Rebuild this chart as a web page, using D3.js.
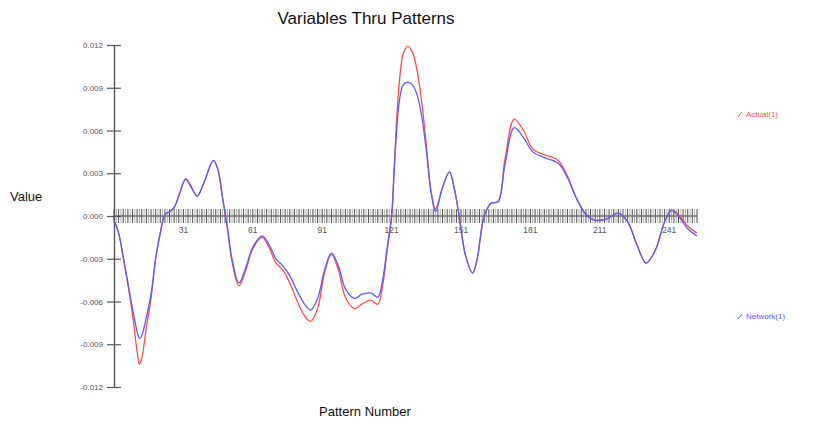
<!DOCTYPE html>
<html>
<head>
<meta charset="utf-8">
<script src="https://cdn.jsdelivr.net/npm/d3@7/dist/d3.min.js"></script>
<style>
  html, body { margin: 0; padding: 0; background: #fff; }
  svg { display: block; font-family: "Liberation Sans", Arial, sans-serif; }
</style>
</head>
<body>
<script>
// Pattern numbers at which each series is sampled
const patterns = [1, 3, 5, 7, 9, 11, 12, 13, 15, 17, 19, 21, 23, 25, 27, 29, 32, 34, 37, 40, 44, 46, 48, 50, 52, 55, 58, 61, 65, 68, 71, 74, 77, 80, 83, 86, 89, 92, 95, 98, 101, 105, 108, 112, 115, 117, 119, 121, 122, 123, 124, 125, 126, 128, 130, 132, 134, 136, 138, 140, 143, 146, 148, 150, 153, 156, 158, 161, 164, 167, 170, 174, 178, 182, 187, 193, 197, 201, 205, 209, 214, 219, 223, 227, 231, 235, 239, 242, 245, 249, 253];

const actual = [-0.0003, -0.0012, -0.0029, -0.0048, -0.0069, -0.0095, -0.0104, -0.0100, -0.0078, -0.0058, -0.0030, -0.0012, 0.0001, 0.0003, 0.0006, 0.0014, 0.0026, 0.0022, 0.0014, 0.0024, 0.0039, 0.0032, 0.0012, -0.0008, -0.0032, -0.0049, -0.0038, -0.0023, -0.0015, -0.0022, -0.0033, -0.0038, -0.0047, -0.0059, -0.0069, -0.0074, -0.0065, -0.0040, -0.0027, -0.0038, -0.0057, -0.0065, -0.0062, -0.0059, -0.0062, -0.0050, -0.0025, 0.0000, 0.0030, 0.0062, 0.0088, 0.0104, 0.0114, 0.0119, 0.0115, 0.0102, 0.0080, 0.0050, 0.0018, 0.0005, 0.0020, 0.0031, 0.0020, 0.0002, -0.0028, -0.0040, -0.0030, 0.0000, 0.0009, 0.0010, 0.0040, 0.0068, 0.0060, 0.0047, 0.0043, 0.0039, 0.0028, 0.0012, 0.0001, -0.0003, -0.0002, 0.0002, -0.0004, -0.0020, -0.0033, -0.0024, -0.0004, 0.0004, 0.0001, -0.0007, -0.0012];

const network = [-0.0003, -0.0012, -0.0029, -0.0047, -0.0065, -0.0081, -0.0086, -0.0084, -0.0071, -0.0055, -0.0030, -0.0012, 0.0001, 0.0003, 0.0006, 0.0014, 0.0026, 0.0021, 0.0014, 0.0024, 0.0039, 0.0032, 0.0012, -0.0008, -0.0030, -0.0047, -0.0036, -0.0022, -0.0014, -0.0020, -0.0030, -0.0035, -0.0042, -0.0052, -0.0061, -0.0066, -0.0058, -0.0038, -0.0026, -0.0035, -0.0051, -0.0058, -0.0055, -0.0054, -0.0057, -0.0046, -0.0023, 0.0000, 0.0028, 0.0056, 0.0076, 0.0087, 0.0092, 0.0094, 0.0092, 0.0085, 0.0070, 0.0046, 0.0017, 0.0003, 0.0020, 0.0031, 0.0020, 0.0002, -0.0028, -0.0040, -0.0030, 0.0000, 0.0009, 0.0010, 0.0036, 0.0062, 0.0055, 0.0045, 0.0041, 0.0037, 0.0027, 0.0012, 0.0001, -0.0003, -0.0002, 0.0002, -0.0004, -0.0020, -0.0033, -0.0024, -0.0004, 0.0004, 0.0000, -0.0009, -0.0014];

// Axis tick values and labels
const yTicks = [-0.012, -0.009, -0.006, -0.003, 0.000, 0.003, 0.006, 0.009, 0.012];
const xLabels = [31, 61, 91, 121, 151, 181, 211, 241];
const seriesNames = ["Actual(1)", "Network(1)"];
const seriesColors = ["#ff4a4a", "#5a5aff"];

const W = 840, H = 426;
const svg = d3.select("body").append("svg").attr("width", W).attr("height", H);

const x = d3.scaleLinear().domain([1, 253]).range([114, 697]);
const y = d3.scaleLinear().domain([-0.012, 0.012]).range([387, 45]);

// Title and axis titles
svg.append("text").attr("x", 366).attr("y", 24).attr("text-anchor", "middle")
  .attr("font-size", 17).attr("fill", "#111").text("Variables Thru Patterns");
svg.append("text").attr("x", 10).attr("y", 201)
  .attr("font-size", 13).attr("fill", "#111").text("Value");
svg.append("text").attr("x", 365).attr("y", 416).attr("text-anchor", "middle")
  .attr("font-size", 13).attr("fill", "#111").text("Pattern Number");

// Y axis
const yAxis = d3.axisLeft(y).tickValues(yTicks)
  .tickFormat(d3.format(".3f")).tickSizeInner(7).tickSizeOuter(0).tickPadding(4);
const gy = svg.append("g").attr("transform", `translate(${x(1)},0)`).call(yAxis);
gy.select(".domain").attr("stroke", "#555").attr("stroke-width", 1.4);
gy.selectAll(".tick line").attr("stroke", "#555").attr("x2", 7).attr("x1", -7).attr("stroke-width", 1.2);
gy.selectAll(".tick text").attr("font-size", 8).attr("fill", "#555")
  .attr("font-family", "Liberation Sans, Arial, sans-serif").attr("x", -11)
  .text(d => d.toFixed(3));

// Dense pattern ticks along the zero line
const xAll = d3.range(1, 254);
const gx = svg.append("g").attr("transform", `translate(0,${y(0)})`);
gx.selectAll("line.pt").data(xAll).join("line").attr("class", "pt")
  .attr("x1", d => x(d)).attr("x2", d => x(d)).attr("y1", -7).attr("y2", 7)
  .attr("stroke", (d, i) => i % 2 ? "#b0b0b0" : "#505050").attr("stroke-width", 1);
gx.append("line").attr("x1", x(1)).attr("x2", x(253)).attr("stroke", "#444").attr("stroke-width", 1.2);
gx.selectAll("text").data(xLabels).join("text")
  .attr("x", d => x(d)).attr("y", 17).attr("text-anchor", "middle")
  .attr("font-size", 8.5).attr("fill", "#555").text(d => d);

// Series lines
const line = d3.line().x((d, i) => x(patterns[i])).y(d => y(d)).curve(d3.curveCatmullRom.alpha(0.5));
[actual, network].forEach((vals, k) => {
  svg.append("path").datum(vals).attr("d", line).attr("fill", "none")
    .attr("stroke", seriesColors[k]).attr("stroke-width", 1.3);
});

// Legend entries
const legendY = [117, 319];
seriesNames.forEach((name, k) => {
  const g = svg.append("g").attr("transform", `translate(738,${legendY[k]})`);
  g.append("line").attr("x1", 0).attr("y1", 0).attr("x2", 4).attr("y2", -5)
    .attr("stroke", seriesColors[k]).attr("stroke-width", 1);
  g.append("text").attr("x", 8).attr("y", 0).attr("font-size", 8)
    .attr("fill", seriesColors[k]).text(name);
});
</script>
</body>
</html>
